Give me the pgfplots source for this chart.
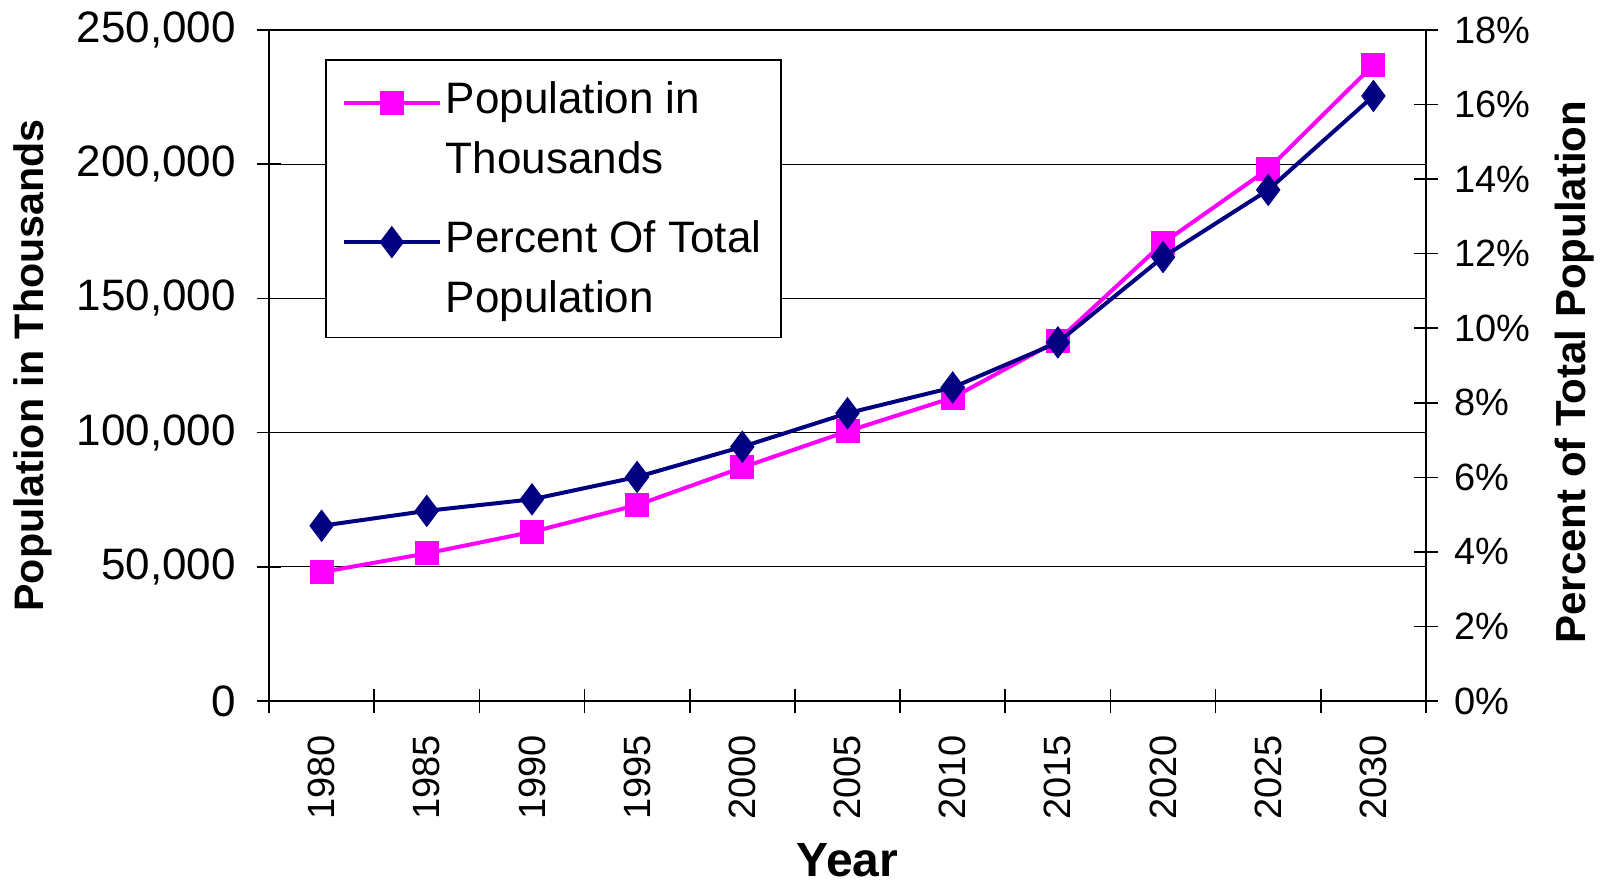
\documentclass[border=0pt]{standalone}
\usepackage{fontspec}
\setmainfont{Liberation Sans}
\usepackage{pgfplots}
\pgfplotsset{compat=1.18}
\definecolor{popmag}{RGB}{255,0,255}
\definecolor{pctnavy}{RGB}{0,0,128}
\begin{document}
\begin{tikzpicture}
\pgfplotsset{
  common/.style={
    scale only axis, width=578.5pt, height=335.5pt,
    xmin=-0.5, xmax=10.5,
    axis line style={line width=1pt, black},
    tick align=center, major tick length=12pt,
    tick style={line width=0.8pt, black},
    /pgf/number format/assume math mode=true,
  },
  popstyle/.style={color=popmag, line width=2pt, mark=square*, mark size=5pt, mark options={solid, fill=popmag, draw=popmag}},
  pctstyle/.style={color=pctnavy, line width=2pt, mark=diamond*, mark size=6.5pt, mark options={solid, fill=pctnavy, draw=pctnavy}},
}
\begin{axis}[
  common,
  ymin=0, ymax=250000,
  xtick={-0.5,0.5,1.5,2.5,3.5,4.5,5.5,6.5,7.5,8.5,9.5,10.5},
  xticklabels={},
  extra x ticks={0,1,2,3,4,5,6,7,8,9,10},
  extra x tick labels={1980,1985,1990,1995,2000,2005,2010,2015,2020,2025,2030},
  extra x tick style={major tick length=0pt, tick style={draw=none}},
  xtick pos=bottom, ytick pos=left,
  ytick={0,50000,100000,150000,200000,250000},
  scaled y ticks=false,
  yticklabel={\pgfmathprintnumber[fixed,precision=0,1000 sep={,}]{\tick}},
  ymajorgrids, grid style={line width=0.6pt, black},
  yticklabel style={font=\fontsize{22}{26}\selectfont, xshift=-7pt},
  xticklabel style={font=\fontsize{19}{23}\selectfont, rotate=90, anchor=east, xshift=-13.5pt},
  xlabel={Year}, ylabel={Population in Thousands},
  xlabel style={font=\bfseries\fontsize{24}{28}\selectfont, inner sep=0pt, at={(axis description cs:0.5,-0.238)}, anchor=center},
  ylabel style={font=\bfseries\fontsize{20.6}{24}\selectfont, at={(axis description cs:-0.204,0.5)}, anchor=center},
]
\addplot[popstyle] coordinates {
  (0,48000) (1,55000) (2,63000) (3,73000) (4,87000) (5,100500)
  (6,113000) (7,134300) (8,170600) (9,198200) (10,237000)
};
\end{axis}
\begin{axis}[
  common,
  ymin=0, ymax=18,
  axis x line=none, axis y line*=right,
  ytick={0,2,4,6,8,10,12,14,16,18},
  yticklabel={\pgfmathprintnumber[fixed,precision=0]{\tick}\%},
  yticklabel style={font=\fontsize{19}{23}\selectfont, xshift=4.5pt},
  ylabel={Percent of Total Population},
  ylabel style={font=\bfseries\fontsize{21}{24}\selectfont, at={(axis description cs:1.1285,0.49)}, anchor=center},
  legend style={at={(axis description cs:0.0484,0.9568)}, anchor=north west,
    draw=black, line width=0.8pt, fill=white,
    font=\fontsize{22}{30}\selectfont,
    cells={align=left, anchor=west}, row sep=18pt, inner xsep=8pt, inner ysep=9pt},
  legend image code/.code={\path (0pt,-22pt) (0pt,22pt);
    \draw[mark repeat=2, mark phase=2, #1, yshift=13pt] plot coordinates {(0pt,0pt) (24pt,0pt) (48pt,0pt)};},
]
\addlegendimage{popstyle}
\addlegendentry{Population in\\Thousands}
\addplot[pctstyle] coordinates {
  (0,4.70) (1,5.10) (2,5.41) (3,6.01) (4,6.82) (5,7.72)
  (6,8.41) (7,9.62) (8,11.91) (9,13.71) (10,16.23)
};
\addlegendentry{Percent Of Total\\Population}
\end{axis}
\pgfresetboundingbox
\path (-134.5pt,-92.5pt) rectangle (668pt,350.5pt);
\end{tikzpicture}
\end{document}
